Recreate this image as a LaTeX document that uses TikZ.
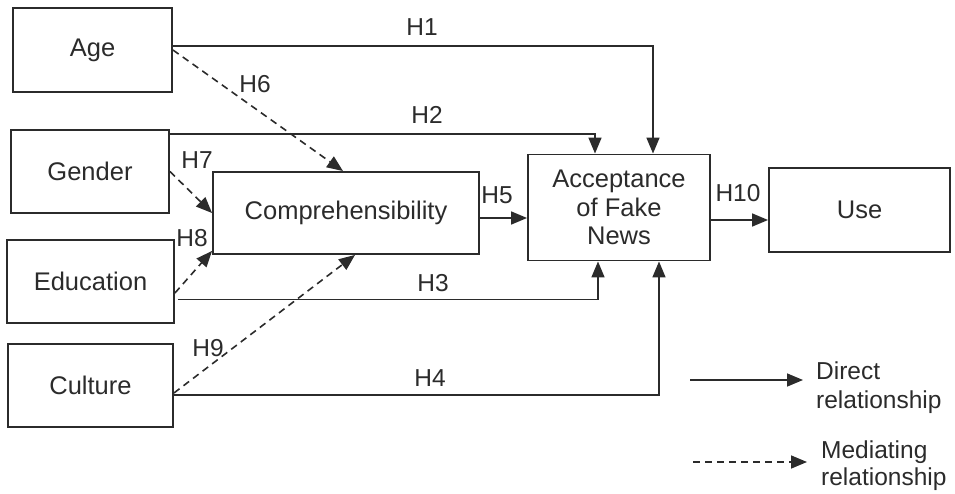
\documentclass[tikz,border=0pt]{standalone}
\usepackage{fontspec}
\setmainfont{Liberation Sans}
\usetikzlibrary{arrows.meta}
\definecolor{ink}{HTML}{2B2B2B}
\tikzset{
  box/.style={draw=ink, line width=1.9pt, inner sep=0pt, align=center, text=ink, font=\fontsize{25.5}{28.5}\selectfont},
  lbl/.style={text=ink, font=\fontsize{24.5}{28}\selectfont, inner sep=0pt},
  direct/.style={draw=ink, line width=1.6pt, -{Triangle[length=16pt,width=13pt]}},
  mediate/.style={direct, dash pattern=on 7pt off 5pt}
}
\begin{document}
\begin{tikzpicture}[x=1pt,y=-1pt]
\useasboundingbox (0,0) rectangle (955,494);
% boxes
\node[box, minimum width=159pt, minimum height=84pt] (age) at (92.5,50) {Age};
\node[box, minimum width=158pt, minimum height=83pt] (gender) at (90,171.5) {Gender};
\node[box, minimum width=266pt, minimum height=82pt] (comp) at (346,213) {Comprehensibility};
\node[box, minimum width=167pt, minimum height=83pt] (edu) at (90.5,281.5) {Education};
\node[box, minimum width=165pt, minimum height=83pt] (cult) at (90.5,385.5) {Culture};
\node[box, minimum width=182pt, minimum height=106pt] (acc) at (619,207.5) {Acceptance\\of Fake\\News};
\node[box, minimum width=181pt, minimum height=84pt] (use) at (859.5,210) {Use};
% direct paths
\draw[direct] ([yshift=4pt]age.east) -| ([xshift=34pt]acc.north);
\draw[direct] ([yshift=-5pt]gender.north east) -| ([xshift=-24pt]acc.north);
\draw[direct] ([xshift=3pt,yshift=-18pt]edu.east) -| ([xshift=-21pt]acc.south);
\draw[direct] ([yshift=-9.5pt]cult.east) -| ([xshift=40pt]acc.south);
\coordinate (h5s) at ([yshift=-5pt]comp.east);
\draw[direct] (h5s) -- (h5s -| acc.west);
\coordinate (h10s) at ([yshift=-12.5pt]acc.east);
\draw[direct] (h10s) -- (h10s -| use.west);
% mediating paths
\draw[mediate] (age.east) -- ([xshift=-3pt]comp.north);
\draw[mediate] (gender.east) -- (comp.west);
\draw[mediate] ([yshift=-11.5pt]edu.east) -- ([yshift=4pt]comp.south west);
\draw[mediate] ([yshift=-7.5pt]cult.east) -- ([xshift=9pt]comp.south);
% labels
\node[lbl] (l1) at (422,27) {H1};
\node[lbl] (l2) at (427,115) {H2};
\node[lbl] (l3) at (433,283) {H3};
\node[lbl] (l4) at (430,378) {H4};
\node[lbl] (l5) at (497,195) {H5};
\node[lbl] (l6) at (255,84) {H6};
\node[lbl] (l7) at (197,160) {H7};
\node[lbl] (l8) at (192,238) {H8};
\node[lbl] (l9) at (208,348) {H9};
\node[lbl] (l10) at (738,193) {H10};
% legend
\coordinate (d1) at (690,380);
\coordinate (d2) at (803,380);
\draw[direct] (d1) -- (d2);
\node[lbl, anchor=west, align=left, font=\fontsize{24.5}{29}\selectfont] (dt) at (816,388) {Direct\\relationship};
\coordinate (m1) at (693,462);
\coordinate (m2) at (807,462);
\draw[mediate] (m1) -- (m2);
\node[lbl, anchor=west, align=left, font=\fontsize{24.5}{27}\selectfont] (mt) at (821,466) {Mediating\\relationship};
\end{tikzpicture}
\end{document}
